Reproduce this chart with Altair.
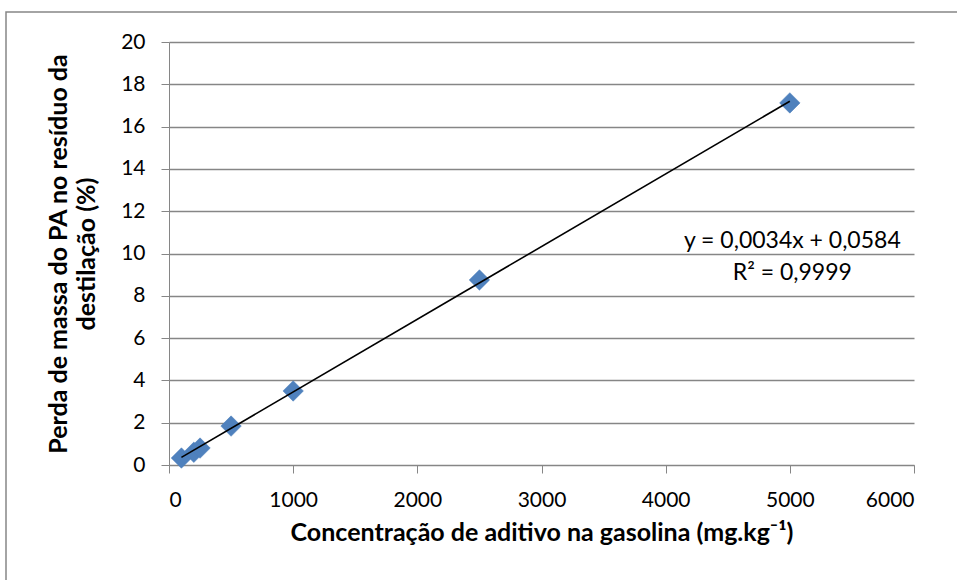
import altair as alt
import pandas as pd

# Data
conc = [100, 200, 250, 500, 1000, 2500, 5000]
loss = [0.33, 0.6, 0.8, 1.84, 3.5, 8.75, 17.12]

eq_lines = ["y = 0,0034x + 0,0584", "R² = 0,9999"]
eq_x = [5020, 5020]
eq_y = [10.6, 9.1]

FONT = "Lato"
GRID = "#868686"

df = pd.DataFrame({"x": conc, "y": loss})
eq_df = pd.DataFrame({"t": eq_lines, "x": eq_x, "y": eq_y})

xs = alt.Scale(domain=[0, 6000], nice=False)
ys = alt.Scale(domain=[0, 20], nice=False)

x_axis = alt.Axis(
    title="Concentração de aditivo na gasolina (mg.kg⁻¹)",
    values=[0, 1000, 2000, 3000, 4000, 5000, 6000], format="d",
    grid=False, domainColor=GRID, tickColor=GRID, tickSize=8,
    labelFont=FONT, labelFontSize=21, labelColor="#000000", labelPadding=16,
    titleFont=FONT, titleFontSize=25, titleFontWeight="bold", titleColor="#000000",
    titlePadding=10,
)
y_axis = alt.Axis(
    title=["Perda de massa do PA no resíduo da", "destilação (%)"],
    values=list(range(0, 21, 2)), format="d",
    grid=True, gridColor=GRID, gridWidth=1.3,
    domainColor=GRID, tickColor=GRID, tickSize=8,
    labelFont=FONT, labelFontSize=21, labelColor="#000000", labelPadding=16,
    titleFont=FONT, titleFontSize=25, titleFontWeight="bold", titleColor="#000000",
    titlePadding=21, titleLineHeight=28,
)

base = alt.Chart(df)

border = alt.Chart(pd.DataFrame({"a": [0]})).mark_rect(
    fill=None, stroke=GRID, strokeWidth=1.5
).encode(
    x=alt.value(-163), x2=alt.value(900), y=alt.value(-30), y2=alt.value(700)
)

points = base.mark_point(
    shape="diamond", filled=True, size=420, color="#4F81BD", opacity=1,
    stroke="#4A7EBB", strokeWidth=0.5,
).encode(
    x=alt.X("x:Q", scale=xs, axis=x_axis),
    y=alt.Y("y:Q", scale=ys, axis=y_axis),
)

trend = base.transform_regression("x", "y", method="linear").mark_line(
    color="#000000", strokeWidth=1.6
).encode(
    x=alt.X("x:Q", scale=xs),
    y=alt.Y("y:Q", scale=ys),
)

eq = alt.Chart(eq_df).mark_text(
    font=FONT, fontSize=23, color="#000000", align="center", baseline="middle"
).encode(
    x=alt.X("x:Q", scale=xs),
    y=alt.Y("y:Q", scale=ys),
    text="t:N",
)

chart = alt.layer(border, points, trend, eq).properties(
    width=745, height=423,
    autosize=alt.AutoSizeParams(type="none"),
    padding={"left": 169, "top": 42, "right": 43, "bottom": 115},
    background="#ffffff",
).configure_view(stroke=None)

chart.save("out.html", embed_options={"renderer": "svg", "actions": False})
